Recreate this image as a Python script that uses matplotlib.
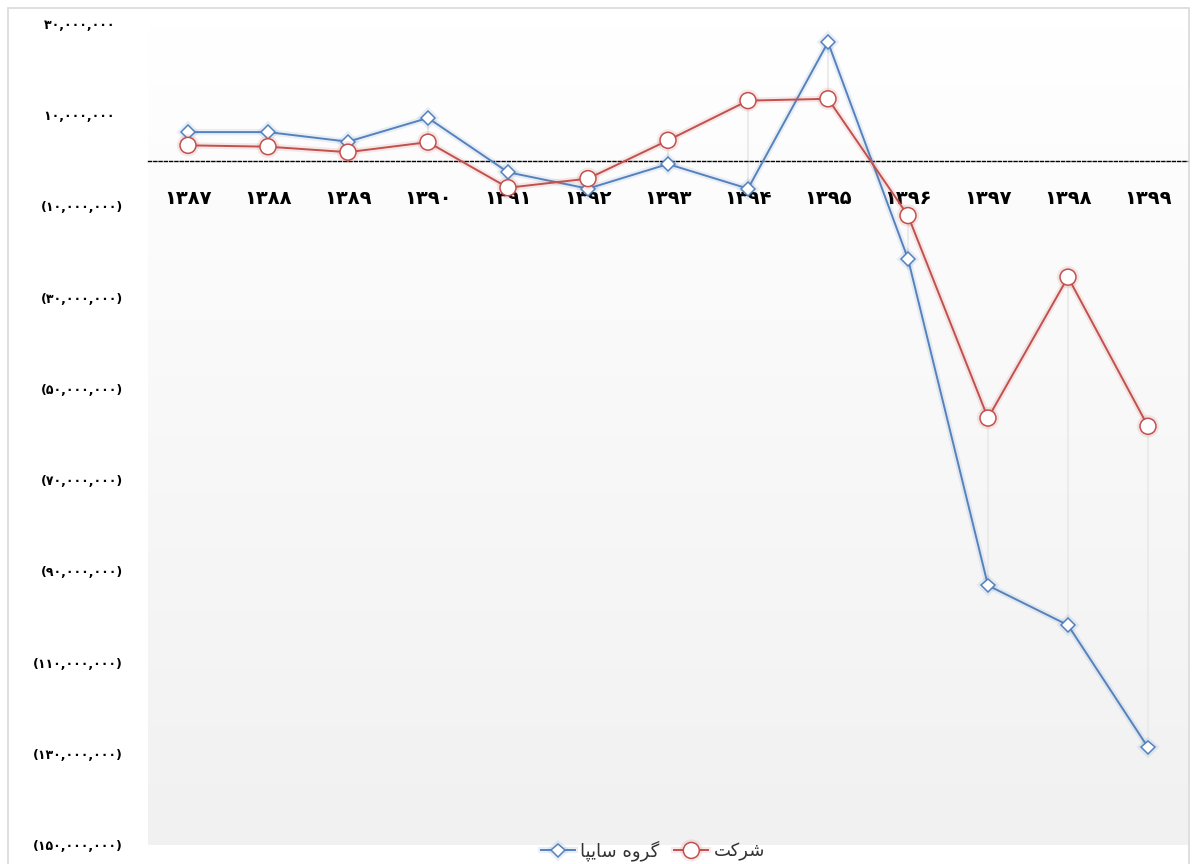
import numpy as np
import matplotlib.pyplot as plt
import matplotlib.patheffects as pe
from matplotlib.colors import LinearSegmentedColormap
from matplotlib.patches import Rectangle

# years (Persian calendar), shown with Persian digits
years = ['۱۳۸۷', '۱۳۸۸', '۱۳۸۹', '۱۳۹۰', '۱۳۹۱', '۱۳۹۲', '۱۳۹۳',
         '۱۳۹۴', '۱۳۹۵', '۱۳۹۶', '۱۳۹۷', '۱۳۹۸', '۱۳۹۹']

# values in millions
saipa_group = [6.3, 6.3, 4.2, 9.4, -2.5, -6.1, -0.7, -6.1, 26.0, -21.5, -93.1, -101.8, -128.6]
company = [3.4, 3.1, 1.9, 4.1, -5.9, -3.9, 4.5, 13.2, 13.6, -12.0, -56.4, -25.5, -58.2]

y_ticks = [30, 10, -10, -30, -50, -70, -90, -110, -130, -150]

# legend labels, Persian, written in visual order with joined letter forms
label_saipa = '\uFE8E\uFB59\uFBFE\uFE8E\uFEB3 \uFEE9\uFEED\uFEAE\uFB94'   # گروه سایپا
label_company = '\uFE96\uFB90\uFEAE\uFEB7'                                # شرکت

BLUE = '#5582bd'
RED = '#c2504d'

fa_digits = str.maketrans('0123456789', '۰۱۲۳۴۵۶۷۸۹')


def fa_number(v):
    s = f'{abs(v):,.0f}'.translate(fa_digits)
    if v < 0:
        return '(' + s + ')'
    return s + '  '


x = np.arange(len(years))
saipa = np.array(saipa_group) * 1e6
comp = np.array(company) * 1e6

fig = plt.figure(figsize=(11.92, 8.64), dpi=100)
W, H = 1192, 864
ax = fig.add_axes([148 / W, (H - 845) / H, (1188 - 148) / W, (845 - 24) / H])

# outer chart frame
fig.patches.append(Rectangle((8 / W, -0.05), (1189 - 8) / W, (H - 8) / H + 0.05,
                             transform=fig.transFigure, fill=False,
                             edgecolor='#d9d9d9', lw=1.2, zorder=0))

# plot area gradient
cmap = LinearSegmentedColormap.from_list('bg', ['#f1f1f1', '#ffffff'])
grad = np.linspace(0, 1, 256).reshape(-1, 1)
ax.imshow(grad, cmap=cmap, aspect='auto', extent=[0, 1, 0, 1],
          transform=ax.transAxes, origin='lower', zorder=0)

ax.set_xlim(-0.5, len(years) - 0.5)
ax.set_ylim(-150e6, 30e6)

# faint high-low lines
ax.vlines(x, np.minimum(saipa, comp), np.maximum(saipa, comp),
          color='#ebebeb', lw=1.5, zorder=1)

glow = lambda c: [pe.Stroke(linewidth=4.5, foreground=c, alpha=0.12), pe.Normal()]
ax.plot(x, saipa, color=BLUE, lw=1.4, marker='D', ms=7, mfc='white',
        mec=BLUE, mew=1.1, label=label_saipa, zorder=3, path_effects=glow(BLUE))
ax.plot(x, comp, color=RED, lw=1.4, marker='o', ms=11.5, mfc='white',
        mec=RED, mew=1.1, label=label_company, zorder=3, path_effects=glow(RED))

for s in ['left', 'right', 'top']:
    ax.spines[s].set_visible(False)
ax.spines['bottom'].set_position(('data', 0))
ax.spines['bottom'].set_linestyle((0, (2.2, 1.6)))
ax.spines['bottom'].set_color('black')
ax.spines['bottom'].set_linewidth(1.0)
ax.spines['bottom'].set_zorder(2)

ax.set_xticks(x)
ax.set_xticklabels(years, fontsize=14, fontweight='bold', family=['DejaVu Sans'])
ax.tick_params(axis='x', length=0, pad=20)

ax.set_yticks(np.array(y_ticks) * 1e6)
ax.set_yticklabels([fa_number(v * 1e6) for v in y_ticks], fontsize=9,
                   fontweight='bold', family=['DejaVu Sans'])
ax.tick_params(axis='y', length=0, pad=18)

fig.legend(loc='center', bbox_to_anchor=(653 / W, 1 - 851 / H), ncol=2,
           frameon=False, handlelength=1.9, columnspacing=0.8,
           handletextpad=0.3, prop={'family': ['DejaVu Sans', 'Noto Sans'], 'size': 13},
           labelcolor='#333333', borderpad=0.1)

fig.savefig('out.png', dpi=100)
